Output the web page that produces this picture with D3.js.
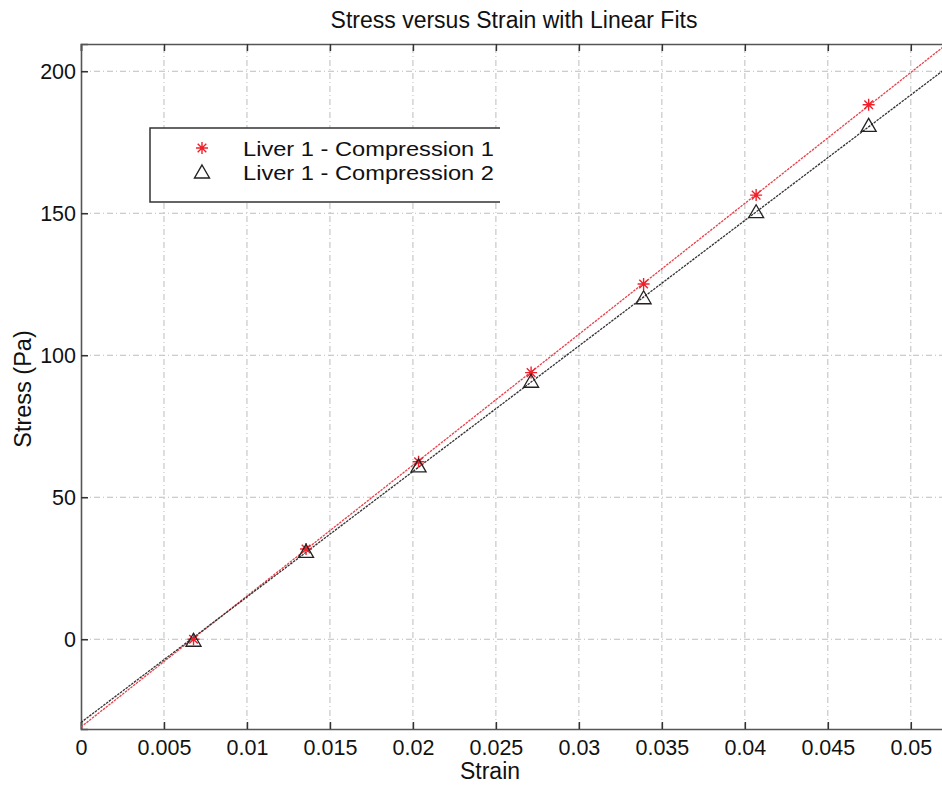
<!DOCTYPE html>
<html>
<head>
<meta charset="utf-8">
<script src="https://cdn.jsdelivr.net/npm/d3@7"></script>
<style>
    body { margin: 0; background: #fff; }
    text { font-family: "Liberation Sans", Arial, sans-serif; fill: #111; }
</style>
</head>
<body>
<svg id="chart"></svg>
<script>
// strain positions of the measured points
const strain = [0.00678, 0.01356, 0.02034, 0.02712, 0.0339, 0.04068, 0.04746];
// stress (Pa) for each compression
const compression1 = [0, 31.8, 62.5, 93.9, 125.1, 156.4, 188.2];
const compression2 = [0, 31.3, 61.4, 91.2, 120.6, 150.9, 181.3];
// linear fit end points
const fitStrain = [0, 0.052];
const fit1 = [-30.9, 208.8];
const fit2 = [-29.3, 200.5];
const xTicks = [0, 0.005, 0.01, 0.015, 0.02, 0.025, 0.03, 0.035, 0.04, 0.045, 0.05];
const yTicks = [0, 50, 100, 150, 200];
const seriesNames = ["Liver 1 - Compression 1", "Liver 1 - Compression 2"];

const width = 942, height = 785;
const margin = {top: 44, right: -2, bottom: 56, left: 81};

let svg = d3.select('#chart')
    .attr("width", width)
    .attr("height", height);

let x = d3.scaleLinear()
    .domain([0, 0.052])
    .range([margin.left, width - margin.right]);

let y = d3.scaleLinear()
    .domain([-31.6, 209.6])
    .range([height - margin.bottom, margin.top]);

svg.append("defs").append("clipPath")
    .attr("id", "plotClip")
    .append("rect")
        .attr("x", x.range()[0])
        .attr("y", y.range()[1])
        .attr("width", x.range()[1] - x.range()[0])
        .attr("height", y.range()[0] - y.range()[1]);

// grid
let grid = svg.append("g").attr("clip-path", "url(#plotClip)");
grid.selectAll(".vgrid")
    .data(xTicks.slice(1))
    .enter()
    .append("line")
        .attr("x1", d => x(d)).attr("x2", d => x(d))
        .attr("y1", y.range()[0]).attr("y2", y.range()[1])
        .style("stroke", "#bdbdbd")
        .style("stroke-width", 1)
        .style("stroke-dasharray", "6,3,1,3");
grid.selectAll(".hgrid")
    .data(yTicks)
    .enter()
    .append("line")
        .attr("x1", x.range()[0]).attr("x2", x.range()[1])
        .attr("y1", d => y(d)).attr("y2", d => y(d))
        .style("stroke", "#bdbdbd")
        .style("stroke-width", 1)
        .style("stroke-dasharray", "6,3,1,3");

// axes
let xAxis = d3.axisBottom(x).tickValues(xTicks).tickFormat(d3.format("")).tickSize(-7).tickPadding(11);
let xAxisTop = d3.axisTop(x).tickValues(xTicks).tickFormat("").tickSize(-7);
let yAxis = d3.axisLeft(y).tickValues(yTicks).tickSize(-7).tickPadding(5);

svg.append("g")
    .attr("class", "axis")
    .attr("transform", "translate(0," + y.range()[0] + ")")
    .call(xAxis);
svg.append("g")
    .attr("class", "axis")
    .attr("transform", "translate(0," + y.range()[1] + ")")
    .call(xAxisTop);
svg.append("g")
    .attr("class", "axis")
    .attr("transform", "translate(" + x.range()[0] + ",0)")
    .call(yAxis);

svg.selectAll(".axis path.domain")
    .style("stroke", "#555")
    .style("stroke-width", 1.6);
svg.selectAll(".axis .tick line")
    .style("stroke", "#333")
    .style("stroke-width", 1.5);
svg.selectAll(".axis text")
    .style("font-size", "21.5px")
    .style("font-family", "'Liberation Sans', Arial, sans-serif")
    .style("fill", "#111");

// fit lines
let fitLine = d3.line()
    .x(d => x(d[0]))
    .y(d => y(d[1]));

let lines = svg.append("g").attr("clip-path", "url(#plotClip)");
lines.append("path")
    .datum(d3.zip(fitStrain, fit1))
    .attr("d", fitLine)
    .style("fill", "none")
    .style("stroke", "#e8404a")
    .style("stroke-width", 1.3)
    .style("stroke-dasharray", "2.5,1");
lines.append("path")
    .datum(d3.zip(fitStrain, fit2))
    .attr("d", fitLine)
    .style("fill", "none")
    .style("stroke", "#333")
    .style("stroke-width", 1.3)
    .style("stroke-dasharray", "2.5,1");

// markers
const star = "M-6,0H6M0,-6V6M-4.3,-4.3L4.3,4.3M-4.3,4.3L4.3,-4.3";
const tri = "M0,-7L7.5,6H-7.5Z";

svg.append("g")
    .selectAll("path")
    .data(d3.zip(strain, compression1))
    .enter()
    .append("path")
        .attr("transform", d => "translate(" + x(d[0]) + "," + y(d[1]) + ")")
        .attr("d", star)
        .style("stroke", "#f0202a")
        .style("stroke-width", 1.4)
        .style("fill", "none");

svg.append("g")
    .selectAll("path")
    .data(d3.zip(strain, compression2))
    .enter()
    .append("path")
        .attr("transform", d => "translate(" + x(d[0]) + "," + (y(d[1]) + 1) + ")")
        .attr("d", tri)
        .style("stroke", "#222")
        .style("stroke-width", 1.3)
        .style("fill", "none");

// legend (right edge is cut off in the source figure)
let legend = svg.append("g");
legend.append("rect")
    .attr("x", 150).attr("y", 128)
    .attr("width", 350).attr("height", 74)
    .style("fill", "#fff");
legend.append("path")
    .attr("d", "M500,128H150V202H500")
    .style("fill", "none")
    .style("stroke", "#333")
    .style("stroke-width", 1.5);

let rows = legend.selectAll(".row")
    .data(seriesNames)
    .enter()
    .append("g")
        .attr("transform", (d, i) => "translate(0," + (148 + i * 24) + ")");
rows.append("path")
    .attr("transform", "translate(202,0)")
    .attr("d", (d, i) => i === 0 ? star : tri)
    .style("stroke", (d, i) => i === 0 ? "#f0202a" : "#222")
    .style("stroke-width", 1.4)
    .style("fill", "none");
rows.append("text")
    .attr("x", 243)
    .attr("y", 8)
    .attr("textLength", 251)
    .attr("lengthAdjust", "spacingAndGlyphs")
    .style("font-size", "20.5px")
    .text(d => d);

// titles
svg.append("text")
    .attr("x", 514)
    .attr("y", 28)
    .attr("text-anchor", "middle")
    .style("font-size", "23px")
    .text("Stress versus Strain with Linear Fits");

svg.append("text")
    .attr("x", 490)
    .attr("y", 779)
    .attr("text-anchor", "middle")
    .style("font-size", "23px")
    .text("Strain");

svg.append("text")
    .attr("transform", "translate(31,389) rotate(-90)")
    .attr("text-anchor", "middle")
    .style("font-size", "23.5px")
    .text("Stress (Pa)");
</script>
</body>
</html>
